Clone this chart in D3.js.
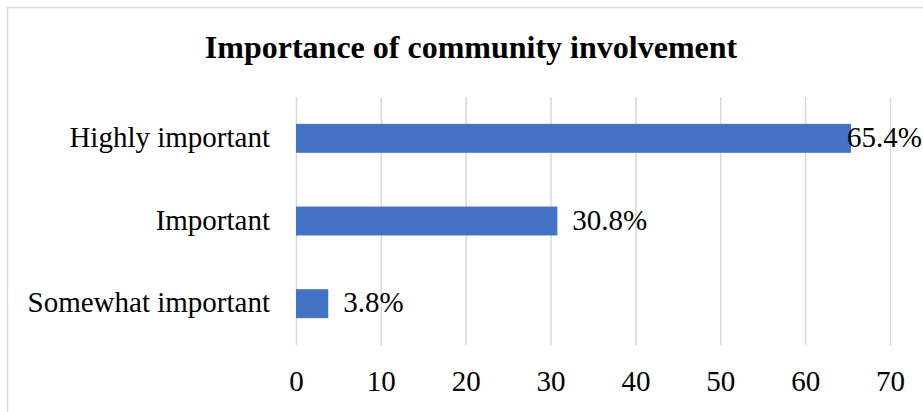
<!DOCTYPE html>
<html>
<head>
<meta charset="utf-8">
<script src="https://cdn.jsdelivr.net/npm/d3@7"></script>
<style>
  html, body { margin: 0; padding: 0; background: #ffffff; }
  svg { display: block; }
  text { font-family: "Liberation Serif", "Times New Roman", serif; fill: #000; }
</style>
</head>
<body>
<svg id="chart" width="923" height="412"></svg>
<script>
// Survey responses: importance of community involvement (percent)
const categories = ["Highly important", "Important", "Somewhat important"];
const values = [65.4, 30.8, 3.8];
const valueLabels = ["65.4%", "30.8%", "3.8%"];
const xTicks = [0, 10, 20, 30, 40, 50, 60, 70];
const title = "Importance of community involvement";

const svg = d3.select("#chart");
const W = 923, H = 412;

// chart frame
svg.append("rect")
  .attr("x", 7.5).attr("y", 7.5)
  .attr("width", W + 20).attr("height", H + 20)
  .attr("fill", "#fff")
  .attr("stroke", "#d9d9d9")
  .attr("stroke-width", 1.5);

const plot = { left: 296, right: 890, top: 97, bottom: 345 };

const x = d3.scaleLinear().domain([0, 70]).range([plot.left, plot.right]);
const y = d3.scaleBand()
  .domain(categories)
  .range([plot.top, plot.bottom])
  .paddingInner(0.65)
  .paddingOuter(0.325);

// title
svg.append("text")
  .attr("x", 471).attr("y", 58)
  .attr("text-anchor", "middle")
  .style("font-size", "32px")
  .style("font-weight", "bold")
  .text(title);

// vertical gridlines
const grid = svg.append("g")
  .attr("transform", `translate(0,${plot.bottom})`)
  .call(d3.axisBottom(x).tickValues(xTicks).tickSize(-(plot.bottom - plot.top)).tickFormat(""));
grid.select(".domain").remove();
grid.selectAll(".tick line").attr("stroke", "#d9d9d9").attr("stroke-width", 1.5);

// x axis tick labels
const xAxis = svg.append("g")
  .attr("transform", `translate(0,${plot.bottom})`)
  .call(d3.axisBottom(x).tickValues(xTicks).tickSize(0).tickPadding(0).tickFormat(d3.format("d")));
xAxis.select(".domain").remove();
xAxis.selectAll(".tick text")
  .attr("y", 46)
  .attr("dy", 0)
  .style("font-size", "29px")
  .style("font-family", "'Liberation Serif', 'Times New Roman', serif")
  .attr("fill", "#000");

// category labels
const yAxis = svg.append("g")
  .attr("transform", `translate(${plot.left - 26},0)`)
  .call(d3.axisLeft(y).tickSize(0).tickPadding(0));
yAxis.select(".domain").remove();
yAxis.selectAll(".tick text")
  .attr("x", 0)
  .attr("dy", "0.3em")
  .style("font-size", "29px")
  .style("font-family", "'Liberation Serif', 'Times New Roman', serif")
  .attr("fill", "#000");

// bars
svg.append("g").selectAll("rect")
  .data(categories)
  .join("rect")
  .attr("x", x(0))
  .attr("y", d => y(d))
  .attr("width", (d, i) => x(values[i]) - x(0))
  .attr("height", y.bandwidth())
  .attr("fill", "#4472c4");

// value labels, kept inside the frame on the right
const rightLimit = 922;
const labels = svg.append("g").selectAll("text")
  .data(categories)
  .join("text")
  .attr("y", d => y(d) + y.bandwidth() / 2)
  .attr("dy", "0.3em")
  .style("font-size", "29px")
  .text((d, i) => valueLabels[i]);
labels.each(function (d, i) {
  const w = this.getComputedTextLength();
  const px = Math.min(x(values[i]) + 15, rightLimit - w);
  d3.select(this).attr("x", px);
});
</script>
</body>
</html>
